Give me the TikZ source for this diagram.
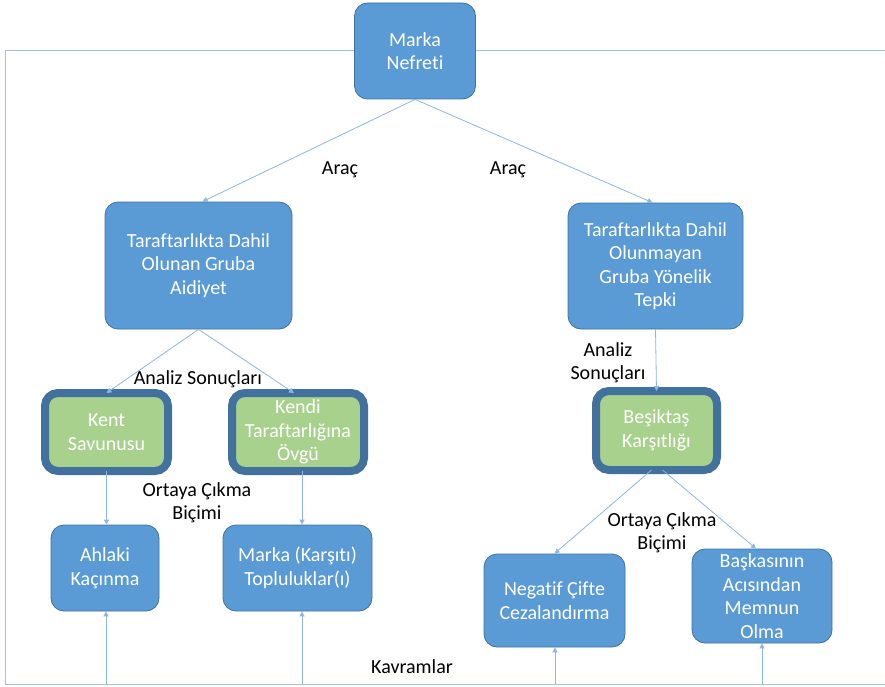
\documentclass[tikz,border=0pt]{standalone}
\usepackage{fontspec}
\setmainfont[Ligatures=NoCommon]{Carlito}
\usetikzlibrary{arrows.meta}
\definecolor{boxfill}{HTML}{5B9BD5}
\definecolor{boxline}{HTML}{41719C}
\definecolor{greenfill}{HTML}{A9D18E}
\definecolor{conn}{HTML}{8DB6E0}
\definecolor{framec}{HTML}{A7C1DC}
\tikzset{
  bluebox/.style={draw=boxline, line width=0.8pt, fill=boxfill, rounded corners=13pt, text=white, align=center, inner sep=0pt, font=\fontsize{20}{23.5}\selectfont},
  greenbox/.style={draw=boxline, line width=8pt, fill=greenfill, rounded corners=13pt, text=white, align=center, inner sep=0pt, font=\fontsize{20}{23.5}\selectfont},
  lbl/.style={align=center, inner sep=0pt, text=black, font=\fontsize{20}{23}\selectfont},
  conn/.style={draw=conn, line width=0.8pt, -{Triangle[length=5pt,width=5pt]}},
  framel/.style={draw=framec, line width=1pt}
}
\begin{document}
\begin{tikzpicture}[x=1pt,y=-1pt]
\useasboundingbox (0,0) rectangle (885,687);
% frame
\coordinate (fl) at (355,51);
\coordinate (fr) at (476,51);
\draw[framel] (fl) -- (5,51) -- (5,684) -- (885,684);
\draw[framel] (fr) -- (885,51);
% nodes
\node[bluebox, minimum width=121pt, minimum height=96pt] (mn) at (415,51) {Marka\\Nefreti};
\node[bluebox, minimum width=187pt, minimum height=127pt] (lm) at (198.5,265.5) {Taraftarlıkta Dahil\\Olunan Gruba\\Aidiyet};
\node[bluebox, minimum width=175pt, minimum height=126pt] (rm) at (655.5,266) {Taraftarlıkta Dahil\\Olunmayan\\Gruba Yönelik\\Tepki};
\node[greenbox, minimum width=123pt, minimum height=78pt] (ks) at (106.5,432) {Kent\\Savunusu};
\node[greenbox, minimum width=132pt, minimum height=78pt] (kt) at (298,432) {Kendi\\Taraftarlığına\\Övgü};
\node[greenbox, minimum width=121pt, minimum height=79pt] (bk) at (656.5,430.5) {Beşiktaş\\Karşıtlığı};
\node[bluebox, minimum width=108pt, minimum height=86pt] (ak) at (105,568) {Ahlaki\\Kaçınma};
\node[bluebox, minimum width=149pt, minimum height=86pt] (mt) at (297.5,568) {Marka (Karşıtı)\\Topluluklar(ı)};
\node[bluebox, minimum width=141pt, minimum height=93pt] (nc) at (554.5,600.5) {Negatif Çifte\\Cezalandırma};
\node[bluebox, minimum width=140pt, minimum height=94pt] (bm) at (762,596) {Başkasının\\Acısından\\Memnun\\Olma};
% labels
\node[lbl] (a1) at (340,170) {Araç};
\node[lbl] (a2) at (508,170) {Araç};
\node[lbl] (as1) at (198,379) {Analiz Sonuçları};
\node[lbl] (as2) at (608,363) {Analiz\\Sonuçları};
\node[lbl] (oc1) at (197,503) {Ortaya Çıkma\\Biçimi};
\node[lbl] (oc2) at (662,533) {Ortaya Çıkma\\Biçimi};
\node[lbl] (kv) at (412,667) {Kavramlar};
% connectors
\draw[conn] (mn.south) -- ([xshift=4pt]lm.north);
\draw[conn] (mn.south) -- ([xshift=-3pt]rm.north);
\draw[conn] (lm.south) -- ([yshift=-4pt]ks.north);
\draw[conn] (lm.south) -- ([xshift=-4pt,yshift=-4pt]kt.north);
\draw[conn] (rm.south) -- ([yshift=-4pt]bk.north);
\draw[conn] ([yshift=4pt]ks.south) -- (ks.south |- ak.north);
\draw[conn] ([xshift=4pt,yshift=4pt]kt.south) -- ([xshift=4pt]kt.south |- mt.north);
\draw[conn] ([xshift=-5pt,yshift=4pt]bk.south) -- (nc.north);
\draw[conn] ([xshift=6pt,yshift=4pt]bk.south) -- ([xshift=-6pt]bm.north);
\coordinate (b1) at (106,684);
\coordinate (b2) at (302,684);
\coordinate (b3) at (555,684);
\coordinate (b4) at (762,684);
\draw[conn] (b1) -- (b1 |- ak.south);
\draw[conn] (b2) -- (b2 |- mt.south);
\draw[conn] (b3) -- (b3 |- nc.south);
\draw[conn] (b4) -- (b4 |- bm.south);
\end{tikzpicture}
\end{document}
